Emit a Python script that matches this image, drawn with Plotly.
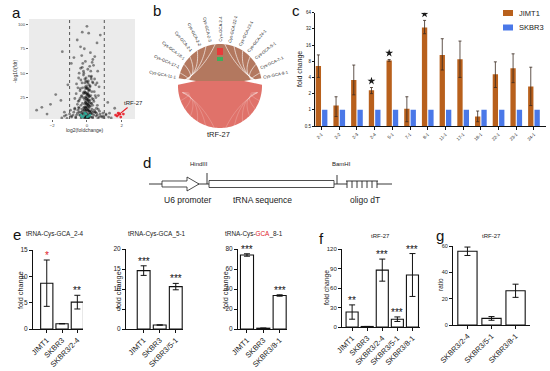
import math
import plotly.graph_objects as go

W, H = 550, 371
FONT = "Liberation Sans, Arial, sans-serif"


def px(x):
    return x / W


def py(y):
    return 1 - y / H


# ---------------- data ----------------
# (a) volcano plot: log2(fold change) vs -log10(fdr)
volcano_x = [
    0.00, -0.27, 0.10, -0.56, 0.58, -1.42, -0.37, 0.20, 0.77, -0.75, -0.09, 0.30, -0.27, 0.05, 0.38, -0.90, 0.45, -0.15, 0.62, -0.45,
    -0.20, 0.12, -0.05, 0.25, -0.35, 0.08, -0.12, 0.35, -0.60, 0.50, -0.02, 0.18, -0.25, 0.03, -0.08, 0.15, -1.10, 0.70, -0.40, 0.28,
    -0.10, 0.05, -0.18, 0.10, 0.00, -0.30, 0.22, -0.05, 0.12, -0.22, 0.02, 0.30, -0.40, 0.08, -0.14, 0.18, -0.03, 0.40, -0.50, 0.06,
    -0.08, 0.14, -0.26, 0.24, 0.00, -0.12, 0.09, -0.35, 0.33, -0.02, 0.20, -0.18, 0.04, -0.06, 0.11, -0.45, 0.55, -0.70, 0.65, -0.15,
    -0.05, 0.07, -0.15, 0.15, -0.25, 0.25, -0.35, 0.35, -0.45, 0.45, -0.55, 0.55, 0.00, -0.10, 0.10, -0.20, 0.20, -0.30, 0.30, -0.40,
    0.40, -0.60, 0.60, -0.80, 0.80, -0.02, 0.03, -0.12, 0.12, -0.22, 0.22, -0.32, 0.32, -0.65, 0.70, -0.90, 0.95, -1.20, 1.10, -0.08,
    -2.10, -2.60, -1.80, -2.90, -1.50, 1.30, 1.60, -1.30, 1.20, -2.30,
    -0.12, -0.06, 0.00, 0.06, 0.12, 0.18, -0.10, -0.04, 0.02, 0.08, 0.14, -0.14, -0.08, -0.02, 0.04, 0.10, 0.16, -0.11, -0.05, 0.01,
    0.07, 0.13, -0.09, -0.03, 0.03, 0.09, 0.15, -0.13, -0.07, -0.01, 0.05, 0.11, 0.17, -0.12, -0.04, 0.04, 0.12, -0.08, 0.00, 0.08,
    -1.45, -1.30, -1.15, -1.00, -0.88, -0.76, -0.64, -0.52, -0.42, -0.33, -0.24, -0.16, -0.07, 0.03, 0.13, 0.23, 0.33, 0.43, 0.53, 0.63,
    0.75, 0.87, 0.98, 1.10, 1.25, 1.40, -0.95, -0.70, -0.48, -0.28, -0.11, 0.09, 0.29, 0.49, 0.72, 0.92,
    -0.55, -0.45, -0.33, -0.21, 0.27, 0.37, 0.48, 0.60, -0.62, -0.38, 0.42, 0.52, -0.28, 0.32, -0.48, 0.26, -0.18, 0.22, -0.70, 0.66,
    -0.36, 0.44, -0.24, 0.34, -0.52, 0.58, -0.30, 0.16, -0.20, 0.24,
]
volcano_y = [
    98, 92, 91, 84, 81, 72, 77, 71, 89, 66, 62, 61, 56, 54, 58, 60, 67, 75, 52, 50,
    48, 47, 45, 44, 43, 42, 40, 40, 39, 38, 37, 36, 35, 35, 34, 33, 38, 36, 32, 31,
    30, 30, 29, 28, 28, 27, 27, 26, 26, 25, 25, 24, 24, 23, 23, 22, 22, 21, 21, 20,
    20, 19, 19, 19, 18, 18, 17, 17, 17, 16, 16, 15, 15, 15, 14, 14, 14, 13, 13, 13,
    12, 12, 12, 11, 11, 11, 10, 10, 10, 10, 9, 9, 9, 9, 8, 8, 8, 8, 8, 7,
    7, 7, 7, 7, 6, 6, 6, 6, 6, 6, 5, 5, 5, 5, 5, 6, 6, 7, 8, 5,
    18, 15, 28, 12, 22, 9, 14, 10, 20, 8,
    44, 42, 41, 40, 38, 37, 36, 35, 34, 33, 32, 31, 30, 29, 28, 27, 26, 25, 24, 23,
    22, 21, 20, 19, 18, 17, 16, 15, 14, 13, 12, 11, 10, 9, 8, 7, 6, 5, 4, 3.5,
    4, 6, 3.5, 8, 5, 10, 4, 12, 7, 3.5, 9, 4, 11, 3.5, 5, 9, 4, 12, 6, 3.5,
    8, 5, 4, 7, 5, 4, 12, 14, 15, 13, 4, 3.5, 13, 10, 11, 9,
    18, 22, 26, 30, 19, 23, 27, 17, 29, 34, 31, 25, 40, 41, 45, 47, 50, 52, 24, 27,
    55, 44, 60, 64, 35, 40, 68, 57, 52, 46,
]
volcano_teal_x = [-0.35, -0.20, -0.05, 0.10, -0.28, 0.02, -0.12, 0.18]
volcano_teal_y = [7, 6, 8, 6, 5, 5, 9, 7]
volcano_red_x = [1.65, 1.80, 1.95, 2.10, 1.74]
volcano_red_y = [7, 9, 5, 8, 6]
volcano_cut = [-1, 1]
volcano_xticks = [-2, 0, 2]
volcano_yticks = [25, 50, 75, 100]

# (b) chord diagram labels
chord_labels = ["Cys-GCA-11-1", "Cys-GCA-17-1", "Cys-GCA-18-1", "Cys-GCA-2-1", "Cys-GCA-2-2",
                "Cys-GCA-2-3", "Cys-GCA-2-4", "Cys-GCA-22-1", "Cys-GCA-23-1", "Cys-GCA-24-1",
                "Cys-GCA-5-1", "Cys-GCA-7-1", "Cys-GCA-8-1"]
chord_target = "tRF-27"

# (c) fold change per tRNA gene
c_categories = ["2-1", "2-2", "2-3", "2-4", "5-1", "7-1", "8-1", "11-1", "17-1", "18-1", "22-1", "23-1", "24-1"]
c_jimt1 = [6.5, 1.2, 3.6, 2.3, 8.3, 1.05, 34, 10.5, 8.7, 0.75, 4.6, 5.9, 2.7]
c_jimt1_upper = [10.5, 1.75, 6.8, 2.6, 8.6, 1.75, 46, 21, 19, 0.95, 7.8, 11, 6.2]
c_jimt1_lower = [4.0, 0.75, 1.9, 2.0, 8.0, 0.6, 26, 5.5, 4.0, 0.6, 2.6, 3.2, 1.2]
c_skbr3 = [1, 1, 1, 1, 1, 1, 1, 1, 1, 1, 1, 1, 1]
c_sig = [False, False, False, True, True, False, True, False, False, False, False, False, False]
c_yticks = [0.5, 1, 2, 4, 8, 16, 32, 64]
c_series = ["JIMT1", "SKBR3"]

# (e) tRNA-Cys-GCA levels
e_titles = ["tRNA-Cys-GCA_2-4", "tRNA-Cys-GCA_5-1", "tRNA-Cys-<span style='color:#e0202a'>GCA</span>_8-1"]
e_groups = [["JIMT1", "SKBR3", "SKBR3/2-4"], ["JIMT1", "SKBR3", "SKBR3/5-1"], ["JIMT1", "SKBR3", "SKBR3/8-1"]]
e_values = [[8.7, 1.0, 5.1], [14.6, 1.0, 10.6], [74.0, 0.8, 33.5]]
e_errors = [[4.4, 0, 1.3], [1.2, 0, 0.8], [1.2, 0, 0.7]]
e_sig = [["*", "", "**"], ["***", "", "***"], ["***", "", "***"]]
e_ymax = [15, 20, 80]
e_dtick = [5, 5, 20]

# (f) tRF-27 fold change
f_groups = ["JIMT1", "SKBR3", "SKBR3/2-4", "SKBR3/5-1", "SKBR3/8-1"]
f_values = [23, 0.8, 87.5, 12, 80]
f_errors = [11, 0, 17, 3.5, 33]
f_sig = ["**", "", "***", "***", "***"]

# (g) tRF-27 ratio
g_groups = ["SKBR3/2-4", "SKBR3/5-1", "SKBR3/8-1"]
g_values = [56, 5, 26]
g_errors = [3.2, 1.4, 5]

# ---------------- styles ----------------
JIMT_COLOR = "#b8601c"
SKBR_COLOR = "#4a78e8"

fig = go.Figure()
shapes = []
ann = []


def txt(x, y, text, size, color="#222", angle=0, xanchor="center", yanchor="middle"):
    ann.append(dict(x=px(x), y=py(y), xref="paper", yref="paper", text=text, showarrow=False,
                    textangle=angle, xanchor=xanchor, yanchor=yanchor,
                    font=dict(size=size, color=color, family=FONT)))


def dom_x(a, b):
    return [px(a), px(b)]


def dom_y(top, bottom):
    return [py(bottom), py(top)]


# ---- (a) ----
fig.add_trace(go.Scatter(x=volcano_x, y=volcano_y, mode="markers",
                         marker=dict(color="black", size=2.8, opacity=0.45, line=dict(width=0)),
                         xaxis="x", yaxis="y", showlegend=False))
fig.add_trace(go.Scatter(x=volcano_teal_x, y=volcano_teal_y, mode="markers",
                         marker=dict(color="#2bb3a0", size=2.8, opacity=0.8),
                         xaxis="x", yaxis="y", showlegend=False))
fig.add_trace(go.Scatter(x=volcano_red_x, y=volcano_red_y, mode="markers",
                         marker=dict(color="#e8202a", size=2.8, opacity=0.9),
                         xaxis="x", yaxis="y", showlegend=False))
shapes.append(dict(type="rect", xref="x domain", yref="y domain", x0=0, x1=1, y0=0, y1=1,
                   fillcolor="#ebebeb", line=dict(width=0), layer="below"))
for c in volcano_cut:
    shapes.append(dict(type="line", xref="x", yref="y domain", x0=c, x1=c, y0=0, y1=1,
                       line=dict(color="#555555", width=1, dash="dot")))
ann.append(dict(x=volcano_red_x[-1], y=volcano_red_y[-1], xref="x", yref="y", text="tRF-27",
                showarrow=True, arrowhead=2, arrowsize=0.7, arrowwidth=1.2, arrowcolor="#e8202a",
                ax=16, ay=-13, font=dict(size=6, color="#222", family=FONT)))
txt(85, 129.5, "log2(foldchange)", 5, "#333")
txt(15, 72, "-log10(fdr)", 5, "#333", angle=-90)

# ---- (b) chord diagram ----
cx, cy, R = 220.0, 86.0, 42.0


def P(theta_deg, r=R):
    t = math.radians(theta_deg)
    return (cx + r * math.cos(t), cy - r * math.sin(t))


def path_from(points, close=True):
    s = "M " + " L ".join(f"{px(x):.5f},{py(y):.5f}" for x, y in points)
    return s + (" Z" if close else "")


def bezier(p0, c, p2, steps=24):
    out = []
    for k in range(steps + 1):
        t = k / steps
        out.append(((1 - t) ** 2 * p0[0] + 2 * (1 - t) * t * c[0] + t ** 2 * p2[0],
                    (1 - t) ** 2 * p0[1] + 2 * (1 - t) * t * c[1] + t ** 2 * p2[1]))
    return out


split = 7.0
top_pts = [P(split + (180 - 2 * split) * k / 60) for k in range(61)]
bot_pts = [P(180 - split + (180 + 2 * split) * k / 80) for k in range(81)]
shapes.append(dict(type="path", xref="paper", yref="paper", path=path_from(bot_pts),
                   fillcolor="#e0726a", line=dict(width=0)))
shapes.append(dict(type="path", xref="paper", yref="paper", path=path_from(top_pts),
                   fillcolor="#b3785f", line=dict(width=0)))
n = len(chord_labels)
span_hi, span_lo = 175.0, 5.0
bounds = [span_hi - (span_hi - span_lo) * k / n for k in range(n + 1)]
for b in bounds[1:-1]:
    if b > 90:
        end_a = 180 - split
        ctrl = P((b + 180) / 2, R * 0.55)
    else:
        end_a = split
        ctrl = P(b / 2, R * 0.55)
    pts = bezier(P(b), ctrl, P(end_a, R * 0.9))
    shapes.append(dict(type="path", xref="paper", yref="paper", path=path_from(pts, close=False),
                       line=dict(color="rgba(255,255,255,0.8)", width=0.8)))
    mpts = [(x, 2 * cy - y + 2) for x, y in pts]
    shapes.append(dict(type="path", xref="paper", yref="paper", path=path_from(mpts, close=False),
                       line=dict(color="rgba(255,255,255,0.25)", width=0.8)))
for side in (-1, 1):
    ex = cx + side * (R + 1)
    shapes.append(dict(type="path", xref="paper", yref="paper",
                       path=path_from([(ex, cy - 8), (ex, cy - 1), (cx + side * (R - 18), cy - 5)]),
                       fillcolor="white", line=dict(width=0)))
shapes.append(dict(type="rect", xref="paper", yref="paper", x0=px(217), x1=px(223), y0=py(55), y1=py(48),
                   fillcolor="#e83a3a", line=dict(width=0)))
shapes.append(dict(type="rect", xref="paper", yref="paper", x0=px(217), x1=px(223), y0=py(61), y1=py(57),
                   fillcolor="#3fae5a", line=dict(width=0)))
for i, lab in enumerate(chord_labels):
    th = (bounds[i] + bounds[i + 1]) / 2
    L = len(lab) * 2.1
    x, y = P(th, R + 4 + L / 2)
    ang = 180 - th if th > 90 else -th
    txt(x, y, lab, 4.2, "#222", angle=ang)
txt(218, 134, chord_target, 7.5)

# ---- (c) grouped bars on log2 scale ----
idx = list(range(len(c_categories)))
fig.add_trace(go.Bar(x=[i - 0.18 for i in idx], y=c_jimt1, width=0.3, name=c_series[0],
                     marker=dict(color=JIMT_COLOR, line=dict(width=0)),
                     error_y=dict(type="data", symmetric=False,
                                  array=[u - v for u, v in zip(c_jimt1_upper, c_jimt1)],
                                  arrayminus=[v - l for v, l in zip(c_jimt1, c_jimt1_lower)],
                                  color="#3a2a20", thickness=0.8, width=1.5),
                     xaxis="x2", yaxis="y2", showlegend=False))
fig.add_trace(go.Bar(x=[i + 0.18 for i in idx], y=c_skbr3, width=0.3, name=c_series[1],
                     marker=dict(color=SKBR_COLOR, line=dict(width=0)),
                     xaxis="x2", yaxis="y2", showlegend=False))
star_x = [i - 0.18 for i, s in zip(idx, c_sig) if s]
star_y = [u * 1.32 for u, s in zip(c_jimt1_upper, c_sig) if s]
fig.add_trace(go.Scatter(x=star_x, y=star_y, mode="markers",
                         marker=dict(symbol="star", size=6, color="#1a1a1a"),
                         xaxis="x2", yaxis="y2", showlegend=False))
txt(300, 69, "fold change", 7, angle=-90)
for (name, col), yy in zip(zip(c_series, [JIMT_COLOR, SKBR_COLOR]), [13, 27.5]):
    shapes.append(dict(type="rect", xref="paper", yref="paper", x0=px(503), x1=px(513), y0=py(yy + 3),
                       y1=py(yy - 3), fillcolor=col, line=dict(width=0)))
    txt(517, yy, name, 7.5, xanchor="left")

# ---- (d) construct diagram ----
def line(x0, y0, x1, y1, w=0.9, color="#222"):
    shapes.append(dict(type="line", xref="paper", yref="paper", x0=px(x0), y0=py(y0), x1=px(x1), y1=py(y1),
                       line=dict(color=color, width=w)))


line(149, 184, 347, 184)
line(377, 184, 392, 184)
shapes.append(dict(type="path", xref="paper", yref="paper",
                   path=path_from([(162, 181), (187, 181), (187, 177), (199, 184), (187, 191), (187, 187), (162, 187)]),
                   fillcolor="white", line=dict(color="#222", width=0.8)))
shapes.append(dict(type="rect", xref="paper", yref="paper", x0=px(209), x1=px(334), y0=py(187.5), y1=py(180.5),
                   fillcolor="white", line=dict(color="#222", width=0.8)))
line(207, 184, 207, 173)
line(337, 184, 337, 175)
line(346, 181, 378, 181)
for k in range(7):
    line(347 + k * 5, 181, 347 + k * 5, 188)
txt(199, 164, "HindIII", 6)
txt(341, 164, "BamHI", 6)
txt(187, 199.5, "U6 promoter", 8.5)
txt(262, 199.5, "tRNA sequence", 8.5)
txt(365, 199.5, "oligo dT", 8.5)

# ---- (e), (f), (g) white bar charts ----
BAR_STYLE = dict(color="white", line=dict(color="#111", width=1.1))


def add_barpanel(k, groups, values, errors, sig, sigcolors=None):
    xa, ya = f"x{k}", f"y{k}"
    fig.add_trace(go.Bar(x=groups, y=values, width=0.8, marker=BAR_STYLE,
                         error_y=dict(type="data", array=errors, color="#111", thickness=1, width=3),
                         xaxis=xa, yaxis=ya, showlegend=False))
    if sig:
        for j, (g, v, e, s) in enumerate(zip(groups, values, errors, sig)):
            if s:
                col = sigcolors[j] if sigcolors else "#111"
                ann.append(dict(x=g, y=v + e, xref=xa, yref=ya, text=s, showarrow=False,
                                xanchor="center", yanchor="bottom", yshift=-3,
                                font=dict(size=10, color=col, family=FONT)))


add_barpanel(3, e_groups[0], e_values[0], e_errors[0], e_sig[0], ["#e0202a", "#111", "#111"])
add_barpanel(4, e_groups[1], e_values[1], e_errors[1], e_sig[1])
add_barpanel(5, e_groups[2], e_values[2], e_errors[2], e_sig[2])
add_barpanel(6, f_groups, f_values, f_errors, f_sig)
add_barpanel(7, g_groups, g_values, g_errors, None)

for t, xc in zip(e_titles, [55, 157, 254]):
    txt(xc, 234, t, 6.4)
txt(380, 236.5, "tRF-27", 6)
txt(491, 236.5, "tRF-27", 6)
for xc, yc in [(20, 290), (118, 290), (225, 290)]:
    txt(xc, yc, "fold change", 7.3, angle=-90)
txt(327, 288, "fold change", 6.8, angle=-90)
txt(440, 285, "ratio", 6.5, angle=-90)

for letter, (x, y) in {"a": (16, 12), "b": (157, 11), "c": (296, 11), "d": (147, 162),
                       "e": (17, 234), "f": (321, 238), "g": (440, 235)}.items():
    txt(x, y, letter, 15, "#111")

# ---------------- axes ----------------
small = dict(size=4.3, color="#444", family=FONT)
common = dict(showgrid=False, zeroline=False, showline=True, linecolor="#111", linewidth=1,
              ticks="outside", tickcolor="#111", tickwidth=1, fixedrange=True, automargin=False)

layout = dict(
    template="none",
    width=W, height=H, margin=dict(l=0, r=0, t=0, b=0, pad=0, autoexpand=False),
    paper_bgcolor="white", plot_bgcolor="rgba(0,0,0,0)",
    barmode="overlay", font=dict(family=FONT), showlegend=False,
    xaxis=dict(domain=dom_x(29, 135), anchor="y", range=[-3.34, 2.77], showgrid=False, zeroline=False,
               tickvals=volcano_xticks, tickfont=small, ticks="outside", ticklen=1.5, tickcolor="#666",
               showline=False, fixedrange=True, automargin=False),
    yaxis=dict(domain=dom_y(19, 119), anchor="x", range=[3, 105.5], showgrid=False, zeroline=False,
               tickvals=volcano_yticks, tickfont=small, ticks="outside", ticklen=2, tickcolor="#666",
               showline=False, fixedrange=True, automargin=False),
    xaxis2=dict(domain=dom_x(315, 546), anchor="y2", range=[-0.37, 12.68], tickvals=idx, ticktext=c_categories,
                tickangle=-45, tickfont=dict(size=4.5, color="#222", family=FONT), ticklen=3, **common),
    yaxis2=dict(domain=dom_y(12.7, 126), anchor="x2", type="log", range=[math.log10(0.5), math.log10(64)],
                tickvals=c_yticks, ticktext=[str(v) for v in c_yticks],
                tickfont=dict(size=4.5, color="#222", family=FONT), ticklen=2, **common),
)
panel_geo = {
    3: ((33, 83), (250, 329), [-0.9, 2.37], e_ymax[0], e_dtick[0], 6.5),
    4: ((126, 183), (249, 329), [-1.1, 2.45], e_ymax[1], e_dtick[1], 6.5),
    5: ((238, 287), (249, 329), [-0.55, 2.45], e_ymax[2], e_dtick[2], 6.5),
    6: ((342, 420), (249, 327), [-0.67, 4.5], 120, 30, 6),
    7: ((453, 530), (246, 325), [-0.6, 2.6], 60, 20, 5.5),
}
for k, (xd, yd, xr, ymax, dt, fs) in panel_geo.items():
    tf = dict(size=fs, color="#222", family=FONT)
    layout[f"xaxis{k}"] = dict(domain=dom_x(*xd), anchor=f"y{k}", range=xr, tickangle=-45,
                               tickfont=dict(size=7.5, color="#222", family=FONT), ticklen=3, **common)
    layout[f"yaxis{k}"] = dict(domain=dom_y(*yd), anchor=f"x{k}", range=[0, ymax], dtick=dt, tickfont=tf,
                               ticklen=3, **common)

layout["shapes"] = shapes
layout["annotations"] = ann
fig.update_layout(**layout)
fig.write_html("out.html", config={"displayModeBar": False, "staticPlot": True},
               post_script="document.body.style.margin='0';document.body.style.overflow='hidden';")
